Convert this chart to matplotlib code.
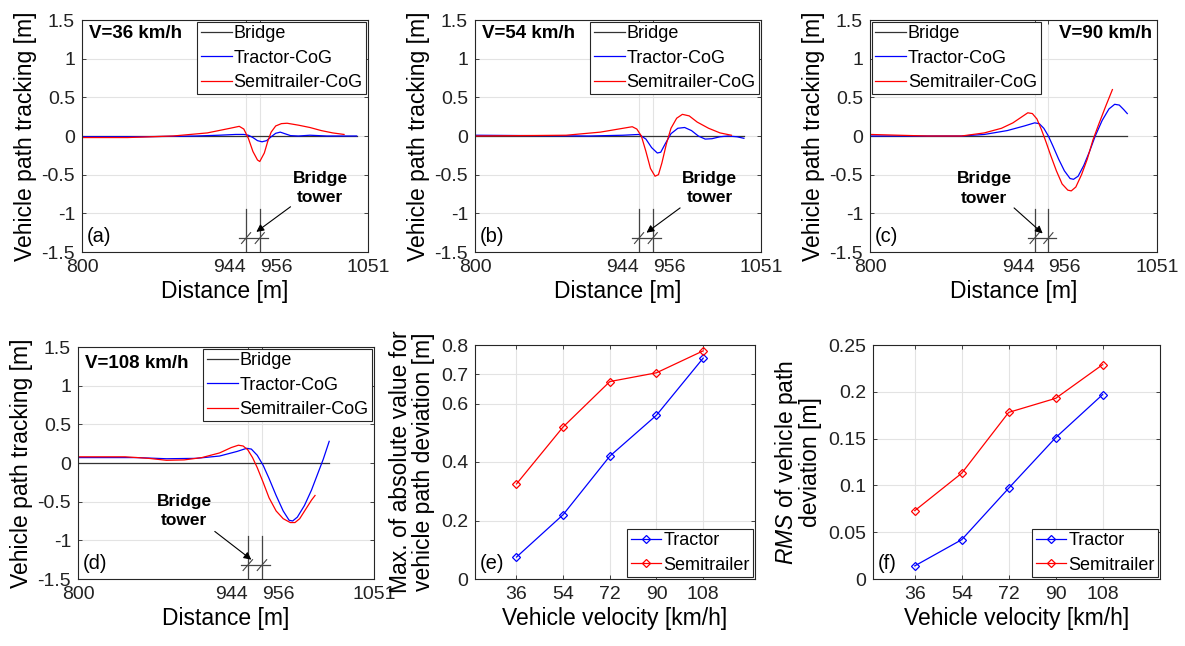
import matplotlib
matplotlib.use("Agg")
import matplotlib.pyplot as plt

plt.rcParams['font.family'] = ['Liberation Sans', 'DejaVu Sans']
plt.rcParams['axes.unicode_minus'] = False
plt.rcParams['mathtext.fontset'] = 'custom'
plt.rcParams['mathtext.it'] = 'Liberation Sans:italic'
plt.rcParams['mathtext.rm'] = 'Liberation Sans'

# ---------------- data ----------------
tower_x = [944, 956]
dist_ticks = [800, 944, 956, 1051]
speeds = [36, 54, 72, 90, 108]

# (a) V=36 km/h
xa_bridge = [800, 1041]
xa_tractor = [800, 850, 900, 920, 935, 942, 946, 950, 954, 958, 962, 966, 970, 974, 978, 983, 990, 1000, 1015, 1030, 1041]
ya_tractor = [-0.01, -0.01, 0.0, 0.01, 0.02, 0.02, 0.01, -0.02, -0.06, -0.075, -0.06, -0.01, 0.035, 0.05, 0.03, 0.005, 0.0, 0.01, 0.0, 0.0, 0.0]
xa_semi = [800, 840, 880, 910, 930, 938, 942, 946, 950, 954, 956, 960, 963, 966, 970, 975, 980, 990, 1000, 1010, 1020, 1030]
ya_semi = [-0.02, -0.02, 0.0, 0.04, 0.1, 0.125, 0.09, -0.03, -0.2, -0.31, -0.33, -0.22, -0.07, 0.05, 0.13, 0.16, 0.165, 0.14, 0.11, 0.07, 0.04, 0.02]

# (b) V=54 km/h
xb_bridge = [800, 1036]
xb_tractor = [800, 900, 930, 944, 950, 955, 960, 963, 967, 972, 978, 984, 990, 996, 1002, 1008, 1015, 1022, 1030, 1036]
yb_tractor = [0.01, 0.0, 0.01, 0.02, -0.04, -0.15, -0.22, -0.21, -0.1, 0.03, 0.1, 0.11, 0.07, 0.0, -0.04, -0.035, -0.01, 0.0, -0.01, -0.03]
xb_semi = [800, 880, 910, 930, 938, 942, 946, 950, 954, 958, 961, 964, 968, 972, 977, 982, 988, 995, 1005, 1015, 1025]
yb_semi = [0.0, 0.01, 0.05, 0.1, 0.12, 0.09, 0.0, -0.2, -0.42, -0.52, -0.5, -0.35, -0.1, 0.1, 0.23, 0.28, 0.26, 0.18, 0.1, 0.04, 0.01]

# (c) V=90 km/h
xc_bridge = [800, 1025]
xc_tractor = [800, 880, 900, 920, 935, 944, 948, 952, 956, 960, 965, 970, 975, 978, 982, 987, 992, 997, 1003, 1009, 1014, 1018, 1022, 1025]
yc_tractor = [0.0, 0.0, 0.02, 0.07, 0.13, 0.17, 0.16, 0.1, 0.0, -0.13, -0.3, -0.45, -0.55, -0.56, -0.52, -0.38, -0.2, 0.0, 0.2, 0.35, 0.41, 0.4, 0.34, 0.29]
xc_semi = [800, 850, 880, 900, 915, 925, 933, 938, 942, 946, 950, 954, 958, 963, 968, 973, 976, 980, 985, 990, 995, 1000, 1006, 1012]
yc_semi = [0.02, 0.0, 0.0, 0.04, 0.1, 0.17, 0.25, 0.3, 0.29, 0.22, 0.08, -0.08, -0.25, -0.45, -0.62, -0.7, -0.71, -0.66, -0.5, -0.3, -0.05, 0.15, 0.38, 0.6]

# (d) V=108 km/h
xd_bridge = [800, 1013]
xd_tractor = [800, 850, 875, 900, 920, 935, 943, 947, 952, 957, 962, 968, 974, 979, 982, 986, 992, 998, 1003, 1008, 1013]
yd_tractor = [0.07, 0.07, 0.055, 0.06, 0.09, 0.15, 0.19, 0.18, 0.1, -0.03, -0.2, -0.42, -0.62, -0.74, -0.75, -0.7, -0.55, -0.35, -0.15, 0.05, 0.28]
xd_semi = [800, 840, 860, 875, 890, 905, 920, 930, 936, 940, 944, 948, 952, 957, 962, 968, 974, 980, 984, 988, 993, 998, 1001]
yd_semi = [0.08, 0.08, 0.06, 0.035, 0.04, 0.07, 0.13, 0.2, 0.23, 0.22, 0.17, 0.07, -0.06, -0.25, -0.45, -0.62, -0.72, -0.77, -0.77, -0.72, -0.6, -0.48, -0.42]

# (e) max absolute deviation
max_tractor = [0.075, 0.22, 0.42, 0.56, 0.755]
max_semi = [0.325, 0.52, 0.675, 0.705, 0.78]

# (f) RMS deviation
rms_tractor = [0.014, 0.042, 0.097, 0.151, 0.197]
rms_semi = [0.073, 0.113, 0.178, 0.193, 0.229]

# ---------------- figure ----------------
W, H = 1185, 646
fig = plt.figure(figsize=(W / 100, H / 100), dpi=100)

BLUE = '#0000ff'
RED = '#ff0000'
GRID = '#e3e3e3'
SPINE = '#262626'
TICK_FS = 14
LABEL_FS = 16.5
LEG_FS = 13


def add_ax(l, t, r, b):
    return fig.add_axes([l / W, 1 - b / H, (r - l) / W, (b - t) / H])


def style(ax):
    for s in ax.spines.values():
        s.set_color(SPINE)
        s.set_linewidth(0.8)
    ax.tick_params(direction='in', length=3, width=0.6, colors=SPINE,
                   labelsize=TICK_FS, labelcolor='#222222', top=True, right=True, pad=5)
    ax.grid(True, color=GRID, linewidth=0.8)
    ax.set_axisbelow(True)


def make_legend(ax, loc):
    leg = ax.legend(loc=loc, fontsize=LEG_FS, frameon=True, fancybox=False,
                    edgecolor=SPINE, framealpha=1, borderpad=0.2, handlelength=1.7,
                    handletextpad=0.1, labelspacing=0.4, borderaxespad=0.1)
    leg.get_frame().set_linewidth(0.8)


def track_panel(ax, xbr, xt, yt, xs, ys, vtext, vpos, leg_loc, letter,
                txt_pos, arrow_from, arrow_to):
    style(ax)
    ax.plot(xbr, [0] * len(xbr), color='#333333', lw=0.9, label='Bridge')
    ax.plot(xt, yt, color=BLUE, lw=0.9, label='Tractor-CoG')
    ax.plot(xs, ys, color=RED, lw=0.9, label='Semitrailer-CoG')
    ax.set_xlim(800, 1051)
    ax.set_ylim(-1.5, 1.5)
    ax.set_xticks(dist_ticks)
    lbls = ax.set_xticklabels([str(v) for v in dist_ticks])
    lbls[1].set_ha('right')
    lbls[2].set_ha('left')
    ax.set_yticks([-1.5, -1, -0.5, 0, 0.5, 1, 1.5])
    ax.set_yticklabels(['-1.5', '-1', '-0.5', '0', '0.5', '1', '1.5'])
    ax.set_xlabel('Distance [m]', fontsize=LABEL_FS, labelpad=3)
    ax.set_ylabel('Vehicle path tracking [m]', fontsize=LABEL_FS, labelpad=3)
    # bridge tower symbol
    for tx in tower_x:
        ax.plot([tx, tx], [-0.95, -1.5], color='#444444', lw=0.9)
        ax.plot([tx - 4, tx + 4], [-1.39, -1.25], color='#444444', lw=0.8)
    ax.plot([938, 963], [-1.32, -1.32], color='#444444', lw=0.9)
    ax.annotate('', xy=arrow_to, xytext=arrow_from,
                arrowprops=dict(arrowstyle='-|>', color='black', lw=0.8,
                                mutation_scale=11, shrinkA=0, shrinkB=0))
    ax.text(txt_pos[0], txt_pos[1], 'Bridge\ntower', ha='center', va='center',
            fontsize=12.5, fontweight='bold', linespacing=1.35)
    ax.text(vpos[0], vpos[1], vtext, transform=ax.transAxes, fontsize=13.5,
            fontweight='bold', ha=('left' if vpos[0] < 0.5 else 'right'), va='center')
    ax.text(0.015, 0.065, letter, transform=ax.transAxes, fontsize=14.5, va='center')
    make_legend(ax, leg_loc)


axa = add_ax(82, 20, 368, 252)
track_panel(axa, xa_bridge, xa_tractor, ya_tractor, xa_semi, ya_semi,
            'V=36 km/h', (0.025, 0.94), 'upper right', '(a)',
            (1009, -0.67), (983, -0.915), (953, -1.24))

axb = add_ax(475, 20, 761, 252)
track_panel(axb, xb_bridge, xb_tractor, yb_tractor, xb_semi, yb_semi,
            'V=54 km/h', (0.025, 0.94), 'upper right', '(b)',
            (1006, -0.67), (980, -0.93), (950.5, -1.25))

axc = add_ax(870, 20, 1157, 252)
track_panel(axc, xc_bridge, xc_tractor, yc_tractor, xc_semi, yc_semi,
            'V=90 km/h', (0.983, 0.94), 'upper left', '(c)',
            (900, -0.68), (926, -0.93), (951, -1.26))

axd = add_ax(78, 347, 374, 579)
track_panel(axd, xd_bridge, xd_tractor, yd_tractor, xd_semi, yd_semi,
            'V=108 km/h', (0.025, 0.93), 'upper right', '(d)',
            (890, -0.62), (916, -0.885), (947, -1.25))


def speed_panel(ax, yt, ys, ylim, yticks, yticklabels, ylabel, letter, xlim):
    style(ax)
    ax.plot(speeds, yt, color=BLUE, lw=0.9, marker='D', ms=4.2, mfc='none', mew=0.9, label='Tractor')
    ax.plot(speeds, ys, color=RED, lw=0.9, marker='D', ms=4.2, mfc='none', mew=0.9, label='Semitrailer')
    ax.set_xlim(*xlim)
    ax.set_ylim(*ylim)
    ax.set_xticks(speeds)
    ax.set_xticklabels([str(s) for s in speeds])
    ax.set_yticks(yticks)
    ax.set_yticklabels(yticklabels)
    ax.set_xlabel('Vehicle velocity [km/h]', fontsize=LABEL_FS, labelpad=3)
    ax.set_ylabel(ylabel, fontsize=LABEL_FS, labelpad=4, linespacing=1.0)
    ax.text(0.017, 0.065, letter, transform=ax.transAxes, fontsize=14.5, va='center')
    make_legend(ax, 'lower right')


axe = add_ax(475, 345, 755, 579)
speed_panel(axe, max_tractor, max_semi, (0, 0.8), [0, 0.2, 0.4, 0.6, 0.7, 0.8],
            ['0', '0.2', '0.4', '0.6', '0.7', '0.8'],
            'Max. of absolute value for\nvehicle path deviation [m]', '(e)', (20, 128))

axf = add_ax(873, 345, 1160, 579)
speed_panel(axf, rms_tractor, rms_semi, (0, 0.25), [0, 0.05, 0.1, 0.15, 0.2, 0.25],
            ['0', '0.05', '0.1', '0.15', '0.2', '0.25'],
            '$\\mathit{RMS}$ of vehicle path\ndeviation [m]', '(f)', (20, 130))

fig.savefig('out.png', dpi=100, facecolor='white')
